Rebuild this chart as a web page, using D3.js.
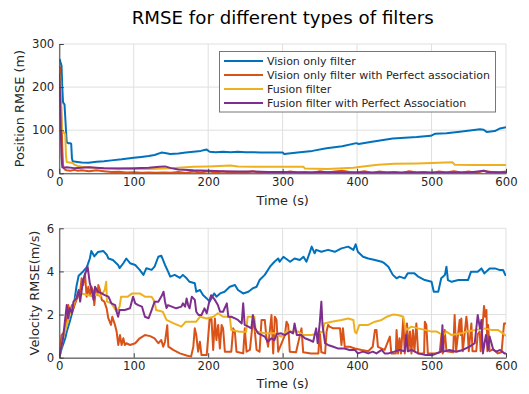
<!DOCTYPE html>
<html>
<head>
<style>
body{ margin:0; background:#fff; }
text{ font-family: "DejaVu Sans", sans-serif; fill:#262626; }
</style>
<script src="https://d3js.org/d3.v7.min.js"></script>
</head>
<body>
<script>
var names = ["Vision only filter", "Vision only filter with Perfect association", "Fusion filter", "Fusion filter with Perfect Association"]
var colors = ["#0072BD", "#D95319", "#EDB120", "#7E2F8E"]
var xTicks = [0, 100, 200, 300, 400, 500, 600]
var posTicks = [0, 100, 200, 300]
var velTicks = [0, 2, 4, 6]

// position RMSE, [time, value]
var posVision = [[0,265],[1,262],[2,255],[3,250],[4,200],[5,165],[6,162],[7,160],[8,130],[9,100],[10,72],[12,70],[15,70],[16,68],[17,35],[18,28],[22,27],[30,25],[39,24.6],[50,27],[60,28],[70,30],[84,32.5],[100,36],[110,38],[120,40],[128,42.5],[137,48],[142,47],[149,45],[160,46],[170,48],[180,50],[190,52],[195,54],[198,55],[202,50],[210,49],[220,50],[230,49],[240,50],[250,49],[260,49],[270,48],[280,48],[300,48],[302,45],[320,48],[340,52],[359,58],[380,63],[399,70],[402,68],[420,73],[448,81],[480,84],[499,87],[505,92],[520,93],[538,96.5],[565,102],[570,101],[574,96],[585,98],[592,104],[600,107]]
var posVisionPA = [[0,250],[1,245],[2,200],[3,120],[4,60],[5,20],[6,12],[8,8],[10,7],[15,6],[20,8],[25,6],[30,7],[40,5],[50,7],[60,5],[70,3],[80,3.5],[90,2],[100,2.5],[110,1.5],[120,2],[130,1],[140,2],[150,1.5],[160,3],[170,1],[180,4],[190,2],[200,5],[210,2],[220,4],[230,1],[240,3],[250,2],[260,5],[270,1],[280,3],[290,2],[300,1],[310,4],[320,2],[330,3],[340,1],[350,5],[360,2],[370,4],[380,6],[390,3],[400,2],[410,5],[420,1],[430,4],[440,2],[450,3],[460,1],[470,5],[480,2],[490,3],[500,1],[510,4],[520,2],[530,5],[540,2],[550,4],[560,1],[570,6],[580,3],[590,2],[600,4]]
var posFusion = [[0,232],[1,225],[2,180],[3,120],[4,100],[6,95],[8,90],[9,40],[10,26],[14,25],[18,24],[20,20],[25,17],[30,15],[40,14],[50,12],[60,12],[80,11],[100,10],[120,10],[140,11],[150,12],[180,15],[200,16],[230,18],[240,16],[260,15],[300,15],[328,15],[330,11],[360,10],[395,13],[405,15],[425,19],[428,20],[450,22],[480,23],[500,24],[528,25.5],[531,20],[560,19],[600,19]]
var posFusionPA = [[0,232],[1,180],[2,100],[3,40],[4,14],[6,13],[10,14],[20,12],[30,13],[40,14],[50,13],[60,12],[80,11],[100,12],[120,13],[135,15],[142,16],[150,12],[160,9],[180,7],[200,6],[220,5],[240,4],[260,4],[280,3],[300,3],[330,2],[350,3],[380,2],[400,2],[450,2],[500,2],[550,2],[565,5],[570,6],[575,3],[600,2]]

// velocity RMSE, [time, value]
var velVision = [[0,0],[3,0.4],[8,0.9],[10,1.2],[14,1.67],[19,2.3],[21,2.8],[23,3.3],[26,3.8],[32,4.0],[37,4.2],[41,4.6],[43,4.95],[47,4.7],[52,4.9],[59,4.95],[64,4.76],[66,4.6],[72,4.53],[79,4.3],[81,4.15],[86,4.38],[90,4.6],[95,4.38],[102,4.3],[108,4.07],[113,3.84],[117,4.15],[124,4.07],[128,4.22],[133,4.68],[137,4.73],[142,4.3],[146,4.0],[149,3.76],[155,3.84],[162,3.7],[166,3.84],[171,3.68],[175,3.52],[182,3.45],[184,3.06],[189,3.14],[193,2.91],[198,2.75],[202,2.6],[208,2.98],[211,2.83],[216,2.98],[222,3.06],[229,3.29],[236,3.37],[240,3.14],[247,2.98],[254,3.06],[260,3.22],[265,3.29],[269,3.6],[276,3.84],[283,4.22],[289,4.45],[294,4.6],[296,4.45],[301,4.68],[310,4.45],[316,4.6],[323,4.53],[328,4.68],[332,4.45],[336,4.84],[339,5.15],[343,4.84],[345,5.0],[352,4.91],[361,5.0],[370,4.91],[379,5.07],[388,5.15],[395,5.0],[398,5.26],[401,4.91],[408,4.68],[415,4.6],[424,4.53],[433,4.45],[437,4.37],[442,4.22],[448,3.84],[453,3.68],[457,3.76],[464,3.68],[468,3.91],[477,3.91],[482,3.76],[491,3.6],[500,3.52],[503,3.06],[509,3.06],[513,3.68],[518,3.84],[520,4.22],[522,3.6],[527,3.52],[536,3.6],[549,3.6],[553,3.99],[562,3.99],[567,4.14],[571,3.91],[578,4.14],[585,4.14],[591,4.07],[596,4.07],[599,3.84],[600,3.84]]
var velVisionPA = [[0,0],[3,1.05],[7,1.21],[10,1.67],[12,2.44],[14,2.13],[17,2.44],[19,2.29],[23,2.68],[28,3.06],[30,3.68],[32,3.37],[34.5,3.9],[36.7,2.83],[39,3.29],[41,2.9],[43,3.29],[45.7,3.06],[47,2.44],[49,3.14],[51.5,2.9],[52.4,3.37],[54.6,3.14],[57,2.68],[60.5,2.6],[63.6,2.29],[65.8,1.83],[69.4,1.52],[71.2,1.9],[74.8,1.52],[77,1.21],[79.2,0.59],[81.5,1.05],[83.7,0.59],[86,0.9],[88,0.59],[90,0.67],[95,0.59],[102,0.67],[108,0.9],[115,1.05],[122,1.0],[128,0.9],[133,0.67],[137,0.82],[139.6,0.51],[142,0.74],[145,1.51],[146.5,0.51],[153,0.36],[162,0.2],[171,0.1],[177,0.05],[180,0.51],[182,1.36],[184,1.05],[186.5,0.28],[188.8,0.74],[191,0.12],[198,0.12],[202,1.82],[204.4,1.8],[206.7,0.36],[209,1.82],[211,0.82],[213.4,1.52],[215.7,0.43],[218,1.52],[220,1.36],[222.4,0.28],[231,0.28],[233.6,1.36],[235.8,1.21],[238,0.28],[247,0.2],[249.2,1.36],[251.5,0.28],[256,0.36],[260.4,1.82],[262.7,1.21],[265,0.36],[269,0.28],[271.6,1.75],[276,1.75],[278.3,0.9],[280.5,0.51],[285,1.98],[287.3,0.2],[289.5,1.9],[291.8,1.75],[294,0.28],[303,1.05],[305.2,1.67],[307.4,1.52],[309.6,0.28],[318,0.25],[325.3,1.36],[327.6,0.25],[338,0.2],[348,0.2],[349.9,1.21],[352,0.25],[357,0.2],[359,1.21],[361,1.52],[363,1.44],[368,1.36],[377,1.36],[379,0.59],[381,1.36],[383.4,0.51],[390,0.51],[397,0.43],[406,0.36],[415,0.3],[421,0.51],[424,1.29],[426,1.29],[428,0.5],[437,0.36],[444,0.98],[446,0.2],[452,0.2],[453,1.28],[455,0.2],[457,0.9],[459,0.2],[462,1.82],[464,0.2],[467,1.59],[469,0.3],[471,1.21],[473,0.2],[475,1.28],[477,0.3],[479.6,1.59],[482,0.2],[490,0.2],[491,1.67],[493,1.52],[495,0.2],[505,0.2],[511,0.25],[513.3,1.05],[515,0.2],[517.7,1.28],[520,0.3],[529,0.25],[531,1.98],[533,0.3],[537.8,1.75],[539,1.05],[540,1.82],[542,0.3],[546.8,1.9],[548,1.52],[550,0.3],[553.5,1.59],[555,0.3],[560,0.3],[562,1.09],[564.7,1.21],[566,0.3],[570.5,2.4],[572,1.9],[573.7,2.21],[575,0.3],[576,1.52],[578,0.3],[582.6,0.4],[589,0.2],[594,0.25],[597.4,1.59],[600,1.59]]
var velFusion = [[0,0],[5,0.9],[10,1.5],[14,1.98],[19,2.44],[23,2.83],[30,2.98],[39,2.9],[46,2.83],[50,2.98],[55,2.83],[61,3.14],[63,3.52],[64,2.6],[70,2.52],[77,2.13],[81,2.37],[83,2.83],[92,2.83],[98,2.98],[108,2.98],[115,2.83],[124,2.83],[128,2.6],[130,2.21],[139,2.13],[144,1.75],[153,1.6],[164,1.44],[170,1.67],[184,1.67],[189,1.9],[198,1.82],[207,1.9],[213,2.06],[220,1.9],[229,1.9],[231,1.28],[242,1.2],[251,1.2],[253,1.9],[262,1.9],[264,1.21],[276,1.13],[289,1.13],[298,0.98],[305,1.21],[321,1.21],[328,1.05],[339,1.05],[348,1.13],[354,1.21],[356,1.59],[366,1.67],[379,1.75],[388,1.82],[395,1.75],[397,1.21],[399,1.13],[403,1.52],[415,1.52],[424,1.67],[433,1.75],[440,1.9],[448,2.0],[455,1.98],[462,1.9],[464,1.52],[466,1.29],[473,1.44],[482,1.36],[491,1.29],[500,1.21],[507,1.21],[511,1.13],[516,1.05],[520,1.21],[527,1.05],[540,1.13],[547,1.21],[560,1.29],[571,1.36],[580,1.29],[589,1.29],[596,1.13],[600,1.0]]
var velFusionPA = [[0,0],[5,0.9],[10,2.44],[12,1.83],[14,2.29],[17,2.06],[19,2.6],[23,2.75],[26,3.14],[28,2.6],[32,3.6],[35,3.91],[38,4.22],[41,3.45],[43,3.22],[46,2.68],[48,3.29],[52,3.06],[57,2.98],[61,2.9],[66,2.83],[70,2.52],[75,2.44],[77,2.13],[79,1.9],[81,2.21],[88,2.21],[95,2.29],[99,2.83],[102,2.52],[106,2.44],[111,2.37],[115,1.9],[120,1.83],[124,2.21],[128,2.6],[133,2.6],[138,2.9],[140,3.06],[142,2.6],[144,2.3],[146,2.44],[151,2.37],[157,2.29],[164,2.37],[166,2.52],[169,2.37],[171,2.75],[173,2.44],[175,2.29],[178,2.83],[182,2.68],[184,2.13],[187,1.98],[191,1.98],[195,2.29],[198,2.06],[202,2.68],[204,2.9],[209,2.68],[213,2.44],[216,2.13],[220,2.13],[225,2.52],[227,1.9],[231,1.9],[236,1.82],[240,1.75],[245,1.59],[247,2.52],[249,1.52],[254,1.44],[258,1.36],[260,1.98],[263,1.36],[267,1.13],[272,1.05],[276,0.98],[280,0.74],[285,0.9],[289,0.82],[292,1.1],[298,1.13],[303,1.05],[310,1.21],[314,1.13],[316,1.59],[319,1.05],[325,1.05],[330,0.9],[336,0.82],[341,0.74],[345,1.36],[347,0.67],[350,1.67],[352,2.6],[353.5,1.52],[357,0.67],[361,0.59],[368,0.51],[374,0.43],[383,0.43],[390,0.36],[397,0.36],[401,0.2],[408,0.28],[415,0.2],[421,0.28],[426,0.2],[433,0.36],[437,0.2],[442,0.2],[450,0.28],[457,0.36],[464,0.3],[466,1.05],[468,0.3],[473,0.36],[482,0.2],[492,0.12],[501,0.12],[513,0.28],[514.6,1.51],[516,0.28],[524,0.36],[533,0.28],[542,0.36],[551,0.51],[558,0.67],[562,1.98],[565,1.36],[567,1.75],[569,0.2],[573,1.05],[576,0.36],[578,0.98],[583,0.36],[587,0.28],[592,0.36],[598,0.2],[600,0.2]]

var w = 529
var h = 394

var svg = d3.select("body")
            .append("svg")
            .attr("width", w)
            .attr("height", h)

svg.append("text")
   .attr("x", 282.7)
   .attr("y", 24)
   .attr("text-anchor", "middle")
   .attr("font-size", "18.2px")
   .style("fill", "#000")
   .text("RMSE for different types of filters")

var xScale = d3.scaleLinear()
               .domain([0, 600])
               .range([59.3, 506])

function drawPanel(id, yScale, yTicks, series, ylabel, ylabelX, xlabelY){
    var top = yScale.range()[1]
    var bottom = yScale.range()[0]

    svg.append("clipPath")
       .attr("id", id)
       .append("rect")
       .attr("x", xScale(0))
       .attr("y", top - 2)
       .attr("width", xScale(600) - xScale(0))
       .attr("height", bottom - top + 2)

    // grid
    svg.append("g")
       .selectAll("line")
       .data(xTicks)
       .enter()
       .append("line")
       .attr("x1", function(d){ return xScale(d) })
       .attr("x2", function(d){ return xScale(d) })
       .attr("y1", top)
       .attr("y2", bottom)
       .attr("stroke", "#dfdfdf")
    svg.append("g")
       .selectAll("line")
       .data(yTicks)
       .enter()
       .append("line")
       .attr("x1", xScale(0))
       .attr("x2", xScale(600))
       .attr("y1", function(d){ return yScale(d) })
       .attr("y2", function(d){ return yScale(d) })
       .attr("stroke", "#dfdfdf")

    var line = d3.line()
                 .x(function(d){ return xScale(d[0]) })
                 .y(function(d){ return yScale(d[1]) })

    svg.append("g")
       .attr("clip-path", "url(#" + id + ")")
       .selectAll("path")
       .data(series)
       .enter()
       .append("path")
       .attr("d", line)
       .attr("fill", "none")
       .attr("stroke", function(d, i){ return colors[i] })
       .attr("stroke-width", 2)
       .attr("stroke-linejoin", "round")

    var xAxis = d3.axisBottom(xScale)
                  .tickValues(xTicks)
                  .tickFormat(d3.format("d"))
                  .tickSizeInner(-4.5)
                  .tickSizeOuter(0)
                  .tickPadding(4)
    var yAxis = d3.axisLeft(yScale)
                  .tickValues(yTicks)
                  .tickFormat(d3.format("d"))
                  .tickSizeInner(-4.5)
                  .tickSizeOuter(0)
                  .tickPadding(5)

    svg.append("g")
       .attr("transform", "translate(0," + bottom + ")")
       .call(xAxis)
    svg.append("g")
       .attr("transform", "translate(" + xScale(0) + ",0)")
       .call(yAxis)
    svg.selectAll(".domain, .tick line").attr("stroke", "#404040")
    svg.selectAll(".tick text")
       .attr("font-size", "11.7px")
       .attr("font-family", "DejaVu Sans")
       .style("fill", "#262626")

    svg.append("text")
       .attr("x", 282.7)
       .attr("y", xlabelY)
       .attr("text-anchor", "middle")
       .attr("font-size", "12.9px")
       .text("Time (s)")

    svg.append("text")
       .attr("transform", "translate(" + ylabelX + "," + ((top + bottom) / 2) + ") rotate(-90)")
       .attr("text-anchor", "middle")
       .attr("font-size", "12.9px")
       .text(ylabel)
}

var yPos = d3.scaleLinear().domain([0, 300]).range([173.3, 44])
var yVel = d3.scaleLinear().domain([0, 6]).range([357.7, 228.3])

drawPanel("clipTop", yPos, posTicks, [posVision, posVisionPA, posFusion, posFusionPA], "Position RMSE (m)", 23.5, 205)
drawPanel("clipBot", yVel, velTicks, [velVision, velVisionPA, velFusion, velFusionPA], "Velocity RMSE(m/s)", 39, 388.3)

// legend
var legend = svg.append("g")
legend.append("rect")
      .attr("x", 219.5)
      .attr("y", 51.5)
      .attr("width", 276)
      .attr("height", 60.5)
      .attr("fill", "#fff")
      .attr("stroke", "#777")

var rows = legend.selectAll("g.row")
                 .data(names)
                 .enter()
                 .append("g")
                 .attr("transform", function(d, i){ return "translate(0," + (61 + i * 14) + ")" })
rows.append("line")
    .attr("x1", 224)
    .attr("x2", 263)
    .attr("stroke", function(d, i){ return colors[i] })
    .attr("stroke-width", 2)
rows.append("text")
    .attr("x", 267)
    .attr("y", 4)
    .attr("font-size", "11px")
    .text(function(d){ return d })
</script>
</body>
</html>
